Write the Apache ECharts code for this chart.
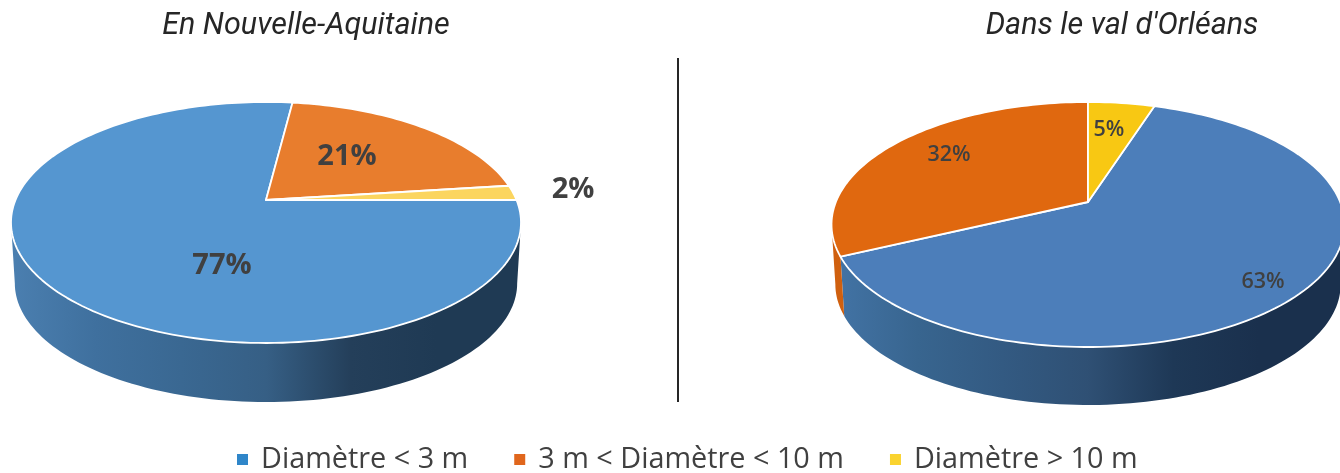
<!DOCTYPE html>
<html>
<head>
<meta charset="utf-8">
<style>html,body{margin:0;padding:0;background:#fff}#chart{width:1340px;height:473px}</style>
<script src="https://cdn.jsdelivr.net/npm/echarts@6/dist/echarts.min.js"></script>
</head>
<body>
<div id="chart"></div>
<script>
// Diameter classes and their share (%) in each region
const categories = ['Diamètre < 3 m', '3 m < Diamètre < 10 m', 'Diamètre > 10 m'];
const pieTitles = ['En Nouvelle-Aquitaine', "Dans le val d'Orléans"];
const sharesAquitaine = [77, 21, 2];
const sharesOrleans = [63, 32, 5];
const shares = [sharesAquitaine, sharesOrleans];
const legendColors = ['#2f86c9', '#e0661c', '#fad32f'];

// Perspective layout of each tilted disc
const discs = [
  { cx: 266, pivotY: 200, top: 102, bottom: 343, half: 255, base: 402, shrink: 0.985, startDeg: 90,
    colors: ['#5596d0', '#e87d2d', '#fbd55f'],
    sideColors: [['#4b7fb0', '#3f709e', '#3a6892', '#365f85', '#243f5a', '#1f3a54', '#1f3a54'], ['#c8641f', '#b05515'], ['#d8b040', '#c09a30']],
    labelAt: [[222, 266], [347, 157], [573, 190]], labelFont: 'bold 29px "Open Sans", sans-serif' },
  { cx: 1088, pivotY: 202, top: 102, bottom: 347, half: 256.5, base: 405, shrink: 0.985, startDeg: 18,
    colors: ['#4c7eba', '#e0680f', '#f8c813'],
    sideColors: [['#4374a6', '#38658f', '#335a82', '#2f5074', '#1e3856', '#1a304d', '#1a304d'], ['#d0600f', '#b85210'], ['#d8ac10', '#c09a10']],
    labelAt: [[1263, 282], [949, 155], [1109, 130]], labelFont: '600 21.5px "Open Sans", sans-serif' }
];

discs.forEach(function (d) {
  const upper = d.pivotY - d.top;
  const lower = d.bottom - d.pivotY;
  d.k = (lower / upper - 1) / (lower / upper + 1);
  d.radiusY = upper * (1 + d.k);
  d.radiusX = d.half * Math.sqrt(1 - d.k * d.k);
  // Rim angles where the top ellipse meets its left and right silhouette
  const turn = Math.acos(-d.k) * 180 / Math.PI;
  d.frontFrom = turn;
  d.frontTo = 360 - turn;
  d.baseShift = d.base - lower * d.shrink;
});

function rimPoint(d, deg) {
  const a = deg * Math.PI / 180;
  const w = 1 + d.k * Math.cos(a);
  return [d.cx + d.radiusX * Math.sin(a) / w, d.pivotY - d.radiusY * Math.cos(a) / w];
}
function basePoint(d, deg) {
  const p = rimPoint(d, deg);
  return [d.cx + (p[0] - d.cx) * d.shrink, d.baseShift + (p[1] - d.pivotY) * d.shrink];
}
function arc(fn, d, from, to) {
  const pts = [];
  const n = Math.max(2, Math.ceil(Math.abs(to - from) / 1.5));
  for (let i = 0; i <= n; i++) pts.push(fn(d, from + (to - from) * i / n));
  return pts;
}
function sliceAngles(pieIndex, classIndex) {
  const d = discs[pieIndex];
  const values = shares[pieIndex];
  const total = values.reduce(function (s, v) { return s + v; }, 0);
  let before = 0;
  for (let i = 0; i < classIndex; i++) before += values[i];
  return [d.startDeg + before / total * 360, d.startDeg + (before + values[classIndex]) / total * 360];
}
// Part of a slice's rim that lies on the front of the disc, if any
function frontSpan(d, from, to) {
  for (let w = 0; w <= 360; w += 360) {
    const a = Math.max(from, d.frontFrom + w);
    const b = Math.min(to, d.frontTo + w);
    if (b > a) return [a, b];
  }
  return null;
}

function renderSlice(classIndex) {
  return function (params, api) {
    const pie = params.dataIndex;
    const d = discs[pie];
    const value = api.value(0);
    const angles = sliceAngles(pie, classIndex);
    const children = [];
    const span = frontSpan(d, angles[0], angles[1]);
    if (span) {
      const stops = d.sideColors[classIndex].map(function (c, i, all) {
        return { offset: i / (all.length - 1), color: c };
      });
      const left = d.cx - d.half;
      const fill = new echarts.graphic.LinearGradient(left, 0, d.cx + d.half, 0, stops, true);
      children.push({
        type: 'polygon', z2: 1,
        shape: { points: arc(rimPoint, d, span[0], span[1]).concat(arc(basePoint, d, span[1], span[0])) },
        style: { fill: fill, stroke: null }
      });
    }
    children.push({
      type: 'polygon', z2: 10,
      shape: { points: [[d.cx, d.pivotY]].concat(arc(rimPoint, d, angles[0], angles[1])) },
      style: { fill: d.colors[classIndex], stroke: '#fff', lineWidth: 1.8, lineJoin: 'round' }
    });
    children.push({
      type: 'text', z2: 20,
      style: {
        x: d.labelAt[classIndex][0], y: d.labelAt[classIndex][1], text: value + '%',
        fill: '#404040', font: d.labelFont, align: 'center', verticalAlign: 'middle'
      }
    });
    return { type: 'group', children: children };
  };
}

const chart = echarts.init(document.getElementById('chart'), null, { renderer: 'canvas' });
const titleStyle = { fontFamily: 'Roboto, sans-serif', fontStyle: 'italic', fontSize: 30.5, fontWeight: 'normal', color: '#262626' };
chart.setOption({
  animation: false,
  backgroundColor: '#fff',
  title: [
    { text: pieTitles[0], left: 301, top: 6, textAlign: 'center', textStyle: titleStyle },
    { text: pieTitles[1], left: 1117, top: 6, textAlign: 'center', textStyle: titleStyle }
  ],
  legend: {
    data: categories, left: 237, top: 445, padding: 0, icon: 'rect', itemWidth: 11, itemHeight: 11, itemGap: 46,
    textStyle: { fontFamily: '"Open Sans", sans-serif', fontSize: 28.8, color: '#404040', padding: [0, 0, 0, 8] },
    selectedMode: false
  },
  graphic: [{
    type: 'line', shape: { x1: 678, y1: 58, x2: 678, y2: 402 },
    style: { stroke: '#262626', lineWidth: 2 }
  }],
  series: categories.map(function (name, i) {
    return {
      type: 'custom', name: name, coordinateSystem: 'none',
      itemStyle: { color: legendColors[i] },
      renderItem: renderSlice(i),
      silent: true,
      data: [[sharesAquitaine[i]], [sharesOrleans[i]]]
    };
  })
});
</script>
</body>
</html>
